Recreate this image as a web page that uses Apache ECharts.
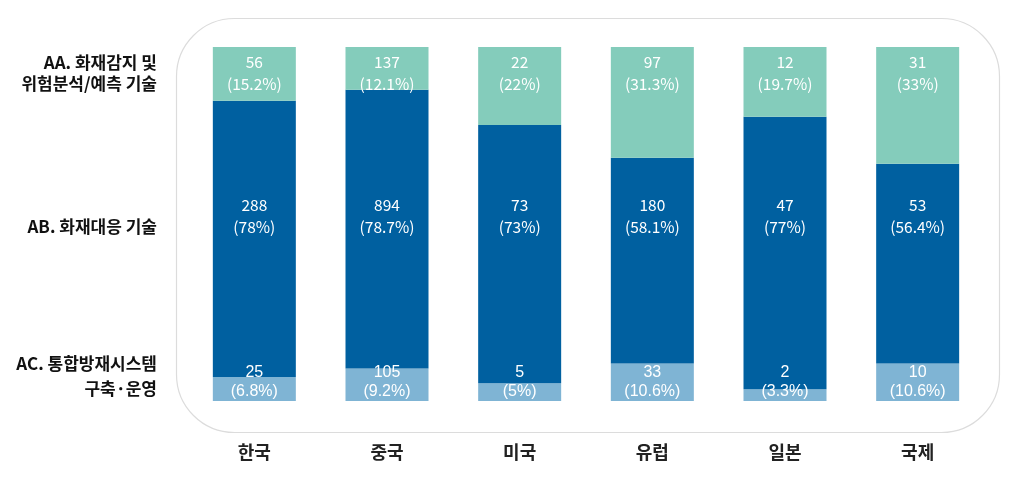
<!DOCTYPE html>
<html><head><meta charset="utf-8">
<script src="https://cdn.jsdelivr.net/npm/echarts@6/dist/echarts.min.js"></script>
<style>html,body{margin:0;padding:0;background:#fff}#c{width:1010px;height:482px}</style>
</head><body><div id="c"></div>
<script>
const categories = ['한국','중국','미국','유럽','일본','국제'];
const seriesNames = ['AA. 화재감지 및\n위험분석/예측 기술','AB. 화재대응 기술','AC. 통합방재시스템\n구축·운영'];
const aaValues = [56,137,22,97,12,31];
const abValues = [288,894,73,180,47,53];
const acValues = [25,105,5,33,2,10];
const aaPct = [15.2,12.1,22,31.3,19.7,33];
const abPct = [78,78.7,73,58.1,77,56.4];
const acPct = [6.8,9.2,5,10.6,3.3,10.6];

const colors = {aa:'#84CCBB', ab:'#0060A0', ac:'#7FB4D4'};
const FONT = '"Noto Sans CJK KR","Noto Sans",sans-serif';

const chart = echarts.init(document.getElementById('c'));
const labelFmt = (vals, pcts) => p => vals[p.dataIndex] + '\n(' + pcts[p.dataIndex] + '%)';

const abTarget = 52.3;
const abData = abPct.map((v,i)=>{
  const lo = acPct[i], hi = acPct[i]+v;
  const fy = (hi-abTarget)/(hi-lo)*100;
  return {value:v, label:{position:['50%', fy.toFixed(1)+'%']}};
});

const legendFont = '600 17px '+FONT;
chart.setOption({
  animation:false,
  graphic:[
    {type:'rect', left:174, top:16, shape:{x:0,y:0,width:823,height:414,r:58}, style:{fill:'none',stroke:'#dcdcdc',lineWidth:1.2}, z:-1},
    {type:'text', x:157, y:52, style:{text:seriesNames[0], fill:'#111', font:legendFont, align:'right', verticalAlign:'top', lineHeight:21}},
    {type:'text', x:157, y:216, style:{text:seriesNames[1], fill:'#111', font:legendFont, align:'right', verticalAlign:'top', lineHeight:21}},
    {type:'text', x:157, y:351, style:{text:seriesNames[2], fill:'#111', font:legendFont, align:'right', verticalAlign:'top', lineHeight:25}}
  ],
  grid:{left:188, right:26, top:47, bottom:81},
  xAxis:{type:'category', data:categories, axisLine:{show:false}, axisTick:{show:false},
    axisLabel:{margin:42, fontSize:18, fontWeight:'bold', color:'#222', fontFamily:FONT}},
  yAxis:{type:'value', min:0, max:100, show:false, splitLine:{show:false}},
  series:[
    {name:'AC', type:'bar', stack:'s', data:acPct, barWidth:83, itemStyle:{color:colors.ac},
      label:{show:true, position:'insideBottom', distance:0, color:'#fff', fontSize:16, lineHeight:19, fontFamily:'Arial, "Liberation Sans", sans-serif', formatter:labelFmt(acValues, acPct)}},
    {name:'AB', type:'bar', stack:'s', data:abData, barWidth:83, itemStyle:{color:colors.ab},
      label:{show:true, align:'center', verticalAlign:'middle', color:'#fff', fontSize:15.5, lineHeight:22, fontFamily:FONT, formatter:labelFmt(abValues, abPct)}},
    {name:'AA', type:'bar', stack:'s', data:aaPct, barWidth:83, itemStyle:{color:colors.aa},
      label:{show:true, position:'insideTop', distance:4, color:'#fff', fontSize:15.5, lineHeight:22, fontFamily:FONT, formatter:labelFmt(aaValues, aaPct)}}
  ]
});
</script></body></html>
